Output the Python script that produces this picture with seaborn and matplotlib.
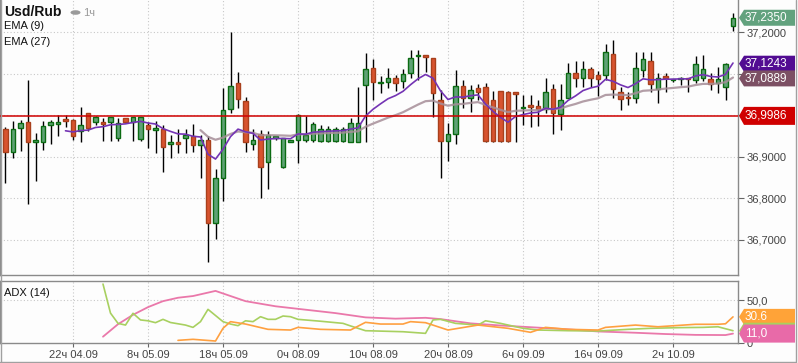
import numpy as np
import pandas as pd
import matplotlib
matplotlib.use("Agg")
import matplotlib.pyplot as plt
import seaborn as sns
from matplotlib.patches import Polygon, Circle
from matplotlib.lines import Line2D

# hourly Usd/Rub candles
opens = [36.966, 36.911, 36.969, 36.983, 36.935, 36.936, 36.976, 36.980, 36.991, 36.989,
         36.962, 37.005, 36.985, 36.984, 36.983, 36.946, 36.993, 36.983, 36.942, 36.976,
         36.964, 36.967, 36.931, 36.936, 36.945, 36.949, 36.929, 36.941, 36.740, 36.850,
         37.014, 37.077, 37.034, 36.930, 36.956, 36.887, 36.945, 36.875, 36.936, 36.941,
         36.940, 36.941, 36.939, 36.939, 36.939, 36.939, 36.936, 36.936, 37.073, 37.113,
         37.077, 37.081, 37.089, 37.083, 37.101, 37.143, 37.145, 37.137, 37.038, 36.939,
         36.954, 37.070, 37.041, 37.065, 37.067, 37.037, 37.058, 37.056, 37.056, 37.018,
         37.024, 37.022, 37.016, 37.063, 37.002, 37.042, 37.101, 37.091, 37.111, 37.097,
         37.096, 37.148, 37.055, 37.045, 37.041, 37.109, 37.131, 37.064, 37.095, 37.084,
         37.087, 37.089, 37.084, 37.091, 37.087, 37.078, 37.069, 37.215]
highs = [36.971, 36.986, 36.989, 37.085, 36.958, 36.986, 36.989, 37.001, 37.001, 36.991,
         37.020, 37.006, 36.999, 36.993, 36.997, 36.993, 36.993, 36.997, 36.997, 36.985,
         36.986, 36.976, 36.952, 36.967, 36.967, 36.978, 36.952, 36.949, 36.871, 37.066,
         37.200, 37.105, 37.045, 36.967, 36.965, 36.962, 36.950, 36.945, 36.941, 37.003,
         36.999, 36.985, 36.977, 36.975, 36.973, 36.973, 36.993, 37.069, 37.149, 37.135,
         37.095, 37.113, 37.097, 37.111, 37.157, 37.157, 37.145, 37.138, 37.060, 36.981,
         37.109, 37.085, 37.073, 37.075, 37.078, 37.058, 37.058, 37.058, 37.056, 37.049,
         37.049, 37.037, 37.091, 37.075, 37.075, 37.125, 37.131, 37.131, 37.116, 37.107,
         37.171, 37.181, 37.069, 37.057, 37.153, 37.153, 37.153, 37.101, 37.103, 37.088,
         37.093, 37.091, 37.143, 37.145, 37.101, 37.117, 37.127, 37.246]
lows = [36.836, 36.896, 36.915, 36.786, 36.841, 36.916, 36.931, 36.951, 36.971, 36.941,
        36.936, 36.963, 36.977, 36.939, 36.939, 36.939, 36.981, 36.939, 36.939, 36.920,
        36.910, 36.864, 36.898, 36.908, 36.908, 36.912, 36.848, 36.647, 36.701, 36.794,
        37.005, 37.017, 36.912, 36.916, 36.800, 36.822, 36.941, 36.873, 36.935, 36.884,
        36.936, 36.936, 36.935, 36.936, 36.935, 36.936, 36.935, 36.935, 36.936, 37.036,
        37.054, 37.065, 37.059, 37.065, 37.089, 37.085, 37.105, 36.995, 36.848, 36.891,
        36.932, 37.017, 37.008, 37.037, 36.936, 36.936, 36.936, 36.936, 36.936, 36.977,
        36.972, 36.974, 37.005, 36.955, 36.965, 37.041, 37.069, 37.069, 37.069, 37.046,
        37.085, 37.041, 37.013, 37.025, 37.029, 37.093, 37.057, 37.030, 37.057, 37.081,
        37.073, 37.057, 37.077, 37.083, 37.061, 37.053, 37.037, 37.204]
closes = [36.911, 36.967, 36.981, 36.935, 36.941, 36.974, 36.985, 36.983, 36.987, 36.949,
          36.976, 36.969, 36.996, 36.980, 36.996, 36.981, 36.985, 36.996, 36.996, 36.966,
          36.969, 36.923, 36.935, 36.931, 36.952, 36.929, 36.941, 36.740, 36.848, 37.013,
          37.070, 37.039, 36.935, 36.941, 36.876, 36.952, 36.949, 36.945, 36.941, 37.001,
          36.952, 36.978, 36.966, 36.966, 36.966, 36.966, 36.981, 36.981, 37.112, 37.080,
          37.080, 37.089, 37.078, 37.099, 37.137, 37.145, 37.140, 37.054, 36.937, 36.954,
          37.070, 37.041, 37.061, 37.057, 36.939, 36.939, 36.937, 36.937, 37.051, 37.021,
          37.021, 37.014, 37.056, 37.005, 37.038, 37.101, 37.091, 37.111, 37.091, 37.087,
          37.153, 37.063, 37.039, 37.041, 37.113, 37.135, 37.075, 37.089, 37.091, 37.087,
          37.091, 37.087, 37.123, 37.111, 37.076, 37.087, 37.124, 37.235]

level = 36.9986
ema_tags = [37.1243, 37.0889]

tick_bars = [9, 19, 29, 39, 49, 59, 69, 79, 89]
tick_labels = ["22ч 04.09", "8ч 05.09", "18ч 05.09", "0ч 08.09", "10ч 08.09",
               "20ч 08.09", "6ч 09.09", "16ч 09.09", "2ч 10.09"]

# ADX(14) lines, vertices
adx_x = [13, 15, 17, 19, 21, 23, 25, 27, 28, 30, 32, 34, 36, 39, 44, 48, 52, 56, 58, 62,
         66, 70, 75, 79, 84, 88, 92, 96, 97]
adx_y = [7.4, 22, 33, 42, 49, 53, 55, 59, 61, 55, 49, 46, 43, 40, 35, 30, 28.5, 29.5, 28, 23,
         20.5, 18.5, 16, 13.5, 12, 10.5, 9.5, 9.3, 11.0]
pdi_x = [13, 14, 15, 16, 17, 18, 19, 20, 21, 22, 24, 25, 26, 27, 29, 30, 31, 32, 33, 34,
         35, 36, 37, 38, 39, 42, 45, 46, 48, 53, 56, 57, 58, 60, 63, 64, 66, 69, 71, 75,
         79, 83, 86, 90, 93, 95, 97]
pdi_y = [69, 35, 23, 21, 34.8, 27, 26, 23.8, 27.7, 24, 21, 18.3, 25, 39.4, 25, 22.2, 20.3, 26, 25, 30.8,
         27.7, 27.7, 31.6, 30.8, 27.7, 25.5, 23, 20, 14.4, 13.2, 11.3, 27, 27.7, 23, 21, 26, 23, 17.2, 15.2, 14.4,
         14, 16, 17.2, 18, 18.3, 19, 14.4]
mdi_x = [23, 25, 28, 29, 30, 32, 35, 38, 39, 42, 46, 48, 50, 53, 54, 56, 59, 63, 67, 70,
         72, 75, 79, 80, 84, 87, 92, 95, 96, 97]
mdi_y = [3.1, 4.3, 2.3, 17.2, 25, 22.2, 16, 15.2, 18.3, 16, 15.2, 24.2, 22.2, 22.2, 25, 23.8, 15.2, 21, 17.2, 12.5,
         18.3, 16, 15.2, 18.3, 21, 19, 21.9, 21.9, 22.5, 30.6]


def ema(values, n):
    out = np.full(len(values), np.nan)
    out[n - 1] = np.mean(values[:n])
    k = 2 / (n + 1)
    for i in range(n, len(values)):
        out[i] = out[i - 1] + k * (values[i] - out[i - 1])
    return out


df = pd.DataFrame({"open": opens, "high": highs, "low": lows, "close": closes})
df["bar"] = np.arange(len(df))
df["ema9"] = ema(df["close"].values, 9)
df["ema27"] = ema(df["close"].values, 27)

sns.set_style("white")
plt.rcParams["font.family"] = ["Liberation Sans", "DejaVu Sans"]

W, H = 798, 363
fig = plt.figure(figsize=(W / 100, H / 100), dpi=100)
fig.patch.set_facecolor("#fdfdfd")


def fx(px):
    return px / W


def fy(py):
    return 1 - py / H


ax = fig.add_axes([0, fy(275), fx(738), 275 / H])
ax2 = fig.add_axes([0, fy(343), fx(738), 62 / H])
for a in (ax, ax2):
    a.set_facecolor("#fdfdfd")
    a.set_xlim(-5.5 / 7.5, (738 - 5.5) / 7.5)
    for s in a.spines.values():
        s.set_color("#8a8a8a")
        s.set_linewidth(1)
    a.set_xticks(tick_bars)
    a.grid(True, color="#c8c8c8", linestyle=(0, (1, 2)), linewidth=0.8)
ax.spines["top"].set_visible(False)

# candles
up = df["close"] >= df["open"]
ax.vlines(df["bar"], df["low"], df["high"], color="black", lw=1, zorder=2)
body_lo = np.minimum(df["open"], df["close"])
body_h = np.maximum((df["close"] - df["open"]).abs(), 0.0006)
ax.bar(df["bar"], body_h, bottom=body_lo, width=0.62,
       color=np.where(up, "#5fa275", "#d8532f"),
       edgecolor=np.where(up, "#0b6b12", "#a8401c"), linewidth=1, zorder=3)

sns.lineplot(data=df, x="bar", y="ema27", ax=ax, color="#a68e98", lw=1.6, alpha=0.85, zorder=4)
sns.lineplot(data=df, x="bar", y="ema9", ax=ax, color="#7434b4", lw=1.2, zorder=5)
ax.axhline(level, color="#d00000", lw=1.1, zorder=6)

ax.set_ylim(36.6152, 37.2778)
ax.yaxis.tick_right()
ax.set_yticks([36.7, 36.8, 36.9, 37.0, 37.1, 37.2])
ax.set_yticklabels(["36,7000", "36,8000", "36,9000", "", "", "37,2000"])
ax.tick_params(axis="y", direction="out", length=4, color="#666", labelsize=8,
               labelcolor="#444", pad=2, right=True)
ax.tick_params(axis="x", length=0, labelbottom=False)
ax.set_xlabel("")
ax.set_ylabel("")

# ADX panel
sns.lineplot(x=adx_x, y=adx_y, ax=ax2, color="#ea78aa", lw=1.3)
sns.lineplot(x=pdi_x, y=pdi_y, ax=ax2, color="#a8d060", lw=1.2)
sns.lineplot(x=mdi_x, y=mdi_y, ax=ax2, color="#ffa040", lw=1.2)
ax2.set_ylim(0, 72.6)
ax2.yaxis.tick_right()
ax2.set_yticks([0, 50])
ax2.set_yticklabels(["0", "50,0"])
ax2.tick_params(axis="y", direction="out", length=4, color="#666", labelsize=8,
                labelcolor="#444", pad=2, right=True)
ax2.set_xticklabels(tick_labels)
ax2.tick_params(axis="x", direction="out", length=3, color="#666", labelsize=8,
                labelcolor="#444", pad=2, bottom=True)
ax2.grid(False, axis="y")
ax2.axhline(50, color="#c8c8c8", linestyle=(0, (1, 2)), linewidth=0.8, zorder=0)


def tag(a, value, text, face, z, h=16):
    yc = a.transData.transform((0, value))[1] / fig.bbox.height
    hh = h / 2 / H
    pts = [(fx(739), yc), (fx(744), yc + hh), (fx(795), yc + hh),
           (fx(795), yc - hh), (fx(744), yc - hh)]
    fig.add_artist(Polygon(pts, closed=True, transform=fig.transFigure,
                           facecolor=face, edgecolor="none", zorder=z))
    if text:
        fig.text(fx(745), yc, text, color="white", fontsize=8.5, va="center",
                 ha="left", zorder=z + 0.5)


tag(ax, closes[-1], f"{closes[-1]:.4f}".replace(".", ","), "#62a27e", 10)
tag(ax, ema_tags[0], f"{ema_tags[0]:.4f}".replace(".", ","), "#520c92", 11)
tag(ax, ema_tags[1], f"{ema_tags[1]:.4f}".replace(".", ","), "#7c5064", 12)
tag(ax, level, f"{level:.4f}".replace(".", ","), "#d00000", 13, h=18)
tag(ax2, mdi_y[-1], f"{mdi_y[-1]:.1f}", "#ffa338", 10)
tag(ax2, 14.4, "", "#a8d060", 11)
tag(ax2, adx_y[-1], f"{adx_y[-1]:.1f}".replace(".", ","), "#e86aa8", 12, h=18)

# header texts
fig.text(fx(4), fy(12), "Usd/Rub", fontsize=10, fontweight="bold", va="center", color="#111")
fig.add_artist(Circle((fx(75.5), fy(12.5)), 5 / W, transform=fig.transFigure,
                      facecolor="#9a9a9a", edgecolor="none"))
fig.text(fx(83), fy(13), "1ч", fontsize=8, va="center", color="#9a9a9a")
fig.text(fx(4), fy(26), "EMA (9)", fontsize=8, va="center", color="#111")
fig.text(fx(4), fy(42), "EMA (27)", fontsize=8, va="center", color="#111")
fig.text(fx(4), fy(292.5), "ADX (14)", fontsize=8, va="center", color="#111")

# outer frame
for xs, ys in [((0.5, 0.5), (0, 362)), ((0, 796), (361.5, 361.5)), ((795.5, 795.5), (0, 362))]:
    fig.add_artist(Line2D([fx(x) for x in xs], [fy(y) for y in ys],
                          transform=fig.transFigure, color="#a0a0a0", lw=1))

plt.savefig("out.png", dpi=100, facecolor=fig.get_facecolor())
